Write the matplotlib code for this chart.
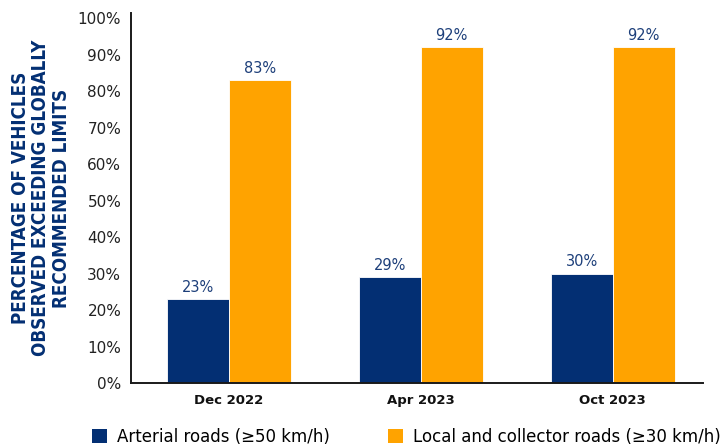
import matplotlib
matplotlib.use("Agg")
import matplotlib.pyplot as plt
import numpy as np
from matplotlib.patches import Patch

periods = ["Dec 2022", "Apr 2023", "Oct 2023"]
series_names = ["Arterial roads (≥50 km/h)", "Local and collector roads (≥30 km/h)"]
arterial = [23, 29, 30]
local_collector = [83, 92, 92]
y_ticks = [0, 10, 20, 30, 40, 50, 60, 70, 80, 90, 100]

NAVY = "#032f73"
ORANGE = "#ffa300"
LABEL_NAVY = "#1d3f7a"

W, H = 726, 448
fig = plt.figure(figsize=(W / 100, H / 100), dpi=100)
ax = fig.add_axes([131 / W, 1 - 383 / H, (703 - 131) / W, (383 - 13) / H])

x = np.arange(len(periods))
bw = 0.322
b1 = ax.bar(x - bw / 2, arterial, bw, color=NAVY, edgecolor="white", linewidth=0.6)
b2 = ax.bar(x + bw / 2, local_collector, bw, color=ORANGE, edgecolor="white", linewidth=0.6)

for bars, vals in ((b1, arterial), (b2, local_collector)):
    for rect, v in zip(bars, vals):
        ax.annotate(f"{v}%", (rect.get_x() + rect.get_width() / 2, v),
                    xytext=(0, 3), textcoords="offset points",
                    ha="center", va="bottom", fontsize=10.5, color=LABEL_NAVY)

ax.set_xlim(-0.51, 2.47)
ax.set_ylim(0, 101.4)
ax.set_yticks(y_ticks)
ax.set_yticklabels([f"{t}%" for t in y_ticks], fontsize=11, color="#222222")
ax.tick_params(axis="y", length=0, pad=7)
ax.set_xticks(x)
ax.set_xticklabels(periods, fontsize=9.5, fontweight="bold", color="#111111")
ax.tick_params(axis="x", length=0, pad=8)

for s in ("top", "right"):
    ax.spines[s].set_visible(False)
for s in ("left", "bottom"):
    ax.spines[s].set_color("#1a1a1a")
    ax.spines[s].set_linewidth(1.4)

fig.text(41 / W, 1 - 198 / H,
         "PERCENTAGE OF VEHICLES\nOBSERVED EXCEEDING GLOBALLY\nRECOMMENDED LIMITS",
         rotation=90, ha="center", va="center", ma="center",
         fontsize=13.5, fontweight="bold", fontstretch="condensed",
         color=NAVY, linespacing=1.1)

handles = [Patch(facecolor=NAVY), Patch(facecolor=ORANGE)]
fig.legend(handles, series_names, loc="center left",
           bbox_to_anchor=(92 / W, 1 - 437 / H), ncol=2, frameon=False,
           fontsize=12, handlelength=0.9, handleheight=0.9, handletextpad=0.6,
           columnspacing=3.5, borderaxespad=0, borderpad=0)

fig.savefig("out.png", dpi=100)
